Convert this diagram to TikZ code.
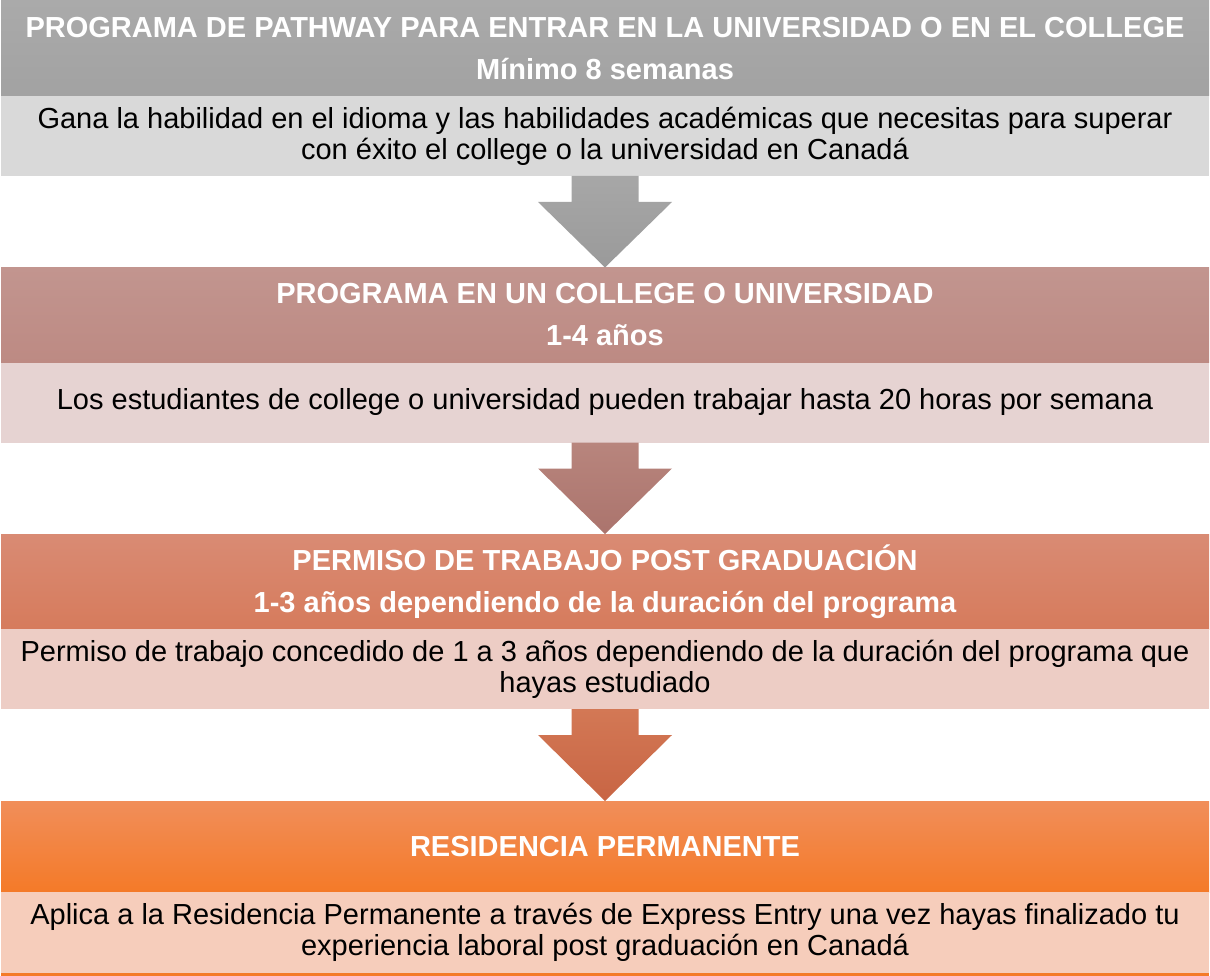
\documentclass[tikz,border=0pt]{standalone}
\usepackage{fontspec}
\setmainfont{Liberation Sans}
\usetikzlibrary{calc}

\definecolor{grayhdtop}{HTML}{AAAAAA}
\definecolor{grayhdbot}{HTML}{A2A2A2}
\definecolor{graybody}{HTML}{D9D9D9}
\definecolor{grayarrtop}{HTML}{A7A7A7}
\definecolor{grayarrbot}{HTML}{9A9A9A}
\definecolor{rosehdtop}{HTML}{C2958F}
\definecolor{rosehdbot}{HTML}{BD8A83}
\definecolor{rosebody}{HTML}{E6D3D2}
\definecolor{rosearrtop}{HTML}{B8857D}
\definecolor{rosearrbot}{HTML}{AB746D}
\definecolor{rustehdtop}{HTML}{D98B74}
\definecolor{rustehdbot}{HTML}{D67B5C}
\definecolor{rustebody}{HTML}{EDCDC5}
\definecolor{rustearrtop}{HTML}{D37855}
\definecolor{rustearrbot}{HTML}{C86544}
\definecolor{orangehdtop}{HTML}{F18E5A}
\definecolor{orangehdbot}{HTML}{F47A28}
\definecolor{orangebody}{HTML}{F6CDBB}

\tikzset{
  headbox/.style={rectangle, minimum width=1208pt, minimum height=95pt, inner sep=0pt, outer sep=0pt,
    align=center, text=white, font=\fontsize{29}{42}\selectfont\bfseries},
  bodybox/.style={rectangle, minimum width=1208pt, minimum height=80pt, inner sep=0pt, outer sep=0pt,
    align=center, text=black, font=\fontsize{29}{31}\selectfont},
}

% block arrow from the bottom of one box to the top of the next
\newcommand{\flowarrow}[3]{%
  \path[#3] ($(#1.south)+(-33.5,0)$) -- ($(#1.south)+(-33.5,26)$) -- ($(#1.south)+(-67,26)$)
    -- (#2.north) -- ($(#1.south)+(67,26)$) -- ($(#1.south)+(33.5,26)$) -- ($(#1.south)+(33.5,0)$) -- cycle;}

\begin{document}
\begin{tikzpicture}[x=1pt,y=-1pt]
\useasboundingbox (0,0) rectangle (1210,976);

% step 1
\node[headbox, top color=grayhdtop, bottom color=grayhdbot] (h1) at (605,48.5)
  {PROGRAMA DE PATHWAY PARA ENTRAR EN LA UNIVERSIDAD O EN EL COLLEGE\\M\'inimo 8 semanas};
\node[bodybox, fill=graybody] (b1) at (605,136)
  {Gana la habilidad en el idioma y las habilidades acad\'emicas que necesitas para superar\\con \'exito el college o la universidad en Canad\'a};

% step 2
\node[headbox, top color=rosehdtop, bottom color=rosehdbot] (h2) at (605,315)
  {PROGRAMA EN UN COLLEGE O UNIVERSIDAD\\1-4 a\~nos};
\node[bodybox, fill=rosebody] (b2) at (605,402.5)
  {Los estudiantes de college o universidad pueden trabajar hasta 20 horas por semana};

% step 3
\node[headbox, top color=rustehdtop, bottom color=rustehdbot] (h3) at (605,581.5)
  {PERMISO DE TRABAJO POST GRADUACI\'ON\\1-3 a\~nos dependiendo de la duraci\'on del programa};
\node[bodybox, fill=rustebody] (b3) at (605,669)
  {Permiso de trabajo concedido de 1 a 3 a\~nos dependiendo de la duraci\'on del programa que\\hayas estudiado};

% step 4
\node[headbox, minimum height=91pt, top color=orangehdtop, bottom color=orangehdbot] (h4) at (605,846.5)
  {RESIDENCIA PERMANENTE};
\node[bodybox, minimum height=81pt, fill=orangebody] (b4) at (605,932.5)
  {Aplica a la Residencia Permanente a trav\'es de Express Entry una vez hayas finalizado tu\\experiencia laboral post graduaci\'on en Canad\'a};
\fill[orangehdbot] (b4.south west) rectangle ($(b4.south east)+(0,4)$);

% arrows
\flowarrow{b1}{h2}{top color=grayarrtop, bottom color=grayarrbot}
\flowarrow{b2}{h3}{top color=rosearrtop, bottom color=rosearrbot}
\flowarrow{b3}{h4}{top color=rustearrtop, bottom color=rustearrbot}
\end{tikzpicture}
\end{document}
